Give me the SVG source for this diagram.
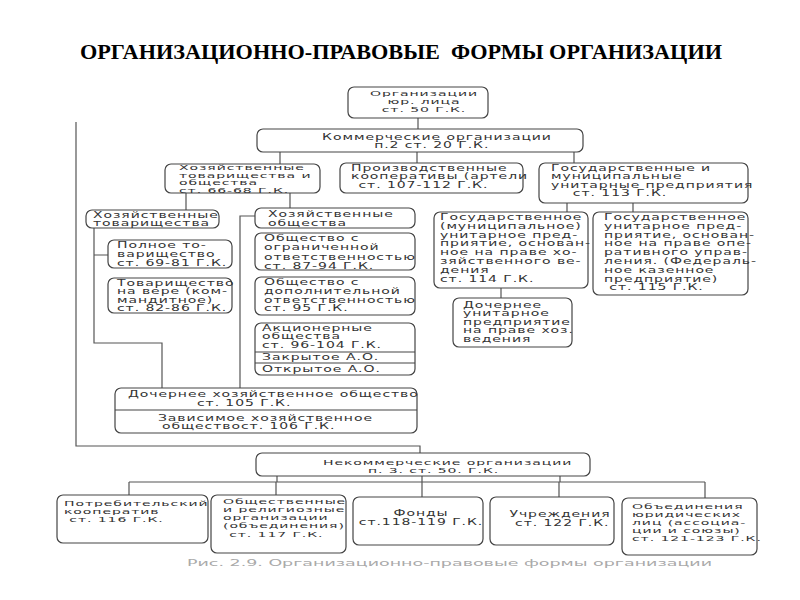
<svg xmlns="http://www.w3.org/2000/svg" width="800" height="600" viewBox="0 0 800 600">
<style>
.b{fill:#fff;stroke:#444;stroke-width:1.2}
.d{stroke:#444;stroke-width:1.2}
.c{fill:none;stroke:#555;stroke-width:1.2}
.t{font-family:"DejaVu Sans",Verdana,sans-serif;font-size:8px;fill:#333;letter-spacing:0.53px}
.s{font-size:7.3px;letter-spacing:0.48px}
.m{text-anchor:middle}
.title{font-family:"Liberation Serif","Times New Roman",serif;font-weight:bold;font-size:21px;fill:#000}
.cap{font-family:"DejaVu Sans",Verdana,sans-serif;font-size:8.5px;fill:#aaa}
</style>
<rect width="800" height="600" fill="#fff"/>
<text class="title" x="80" y="59" textLength="642" lengthAdjust="spacingAndGlyphs">ОРГАНИЗАЦИОННО-ПРАВОВЫЕ&#160; ФОРМЫ ОРГАНИЗАЦИИ</text>

<g id="connectors" class="c">
<path d="M418 118V129"/>
<path d="M280 152V164M417 152V163M574 152V163"/>
<path d="M186 193V210M290 193V208"/>
<path d="M94 228V343H162V388M94 255H108"/>
<path d="M255 216H240V388"/>
<path d="M567 203V212M633 203V212"/>
<path d="M501 288V298"/>
<path d="M76 122V446H420V453"/>
<path d="M277 476V482M422 476V482M560 476V482"/>
<path d="M129 482H705M129 482V495M276 482V495M422 482V497M559 482V497M705 482V498"/>
</g>

<g id="n-top"><rect class="b" x="348" y="87" width="140" height="31" rx="6"/>
<text class="t s m" transform="translate(424,96) scale(1.92,1)"><tspan x="0" y="0">Организации</tspan><tspan x="0" y="8">юр. лица</tspan><tspan x="0" y="16">ст. 50 Г.К.</tspan></text></g>

<g id="n-comm"><rect class="b" x="257" y="129" width="326" height="23" rx="6"/>
<text class="t m" transform="translate(437,140) scale(1.75,1)"><tspan x="0" y="0">Коммерческие организации</tspan><tspan x="-3" y="8.5">п.2 ст. 20 Г.К.</tspan></text></g>

<g id="n-hto"><rect class="b" x="165" y="164" width="155" height="29" rx="6"/>
<text class="t s" transform="translate(179,170) scale(1.92,1)"><tspan x="0" y="0">Хозяйственные</tspan><tspan x="0" y="7.6">товарищества и</tspan><tspan x="0" y="15.2">общества</tspan><tspan x="0" y="22.8">ст. 66-68 Г.К.</tspan></text></g>

<g id="n-pk"><rect class="b" x="340" y="163" width="183" height="30" rx="6"/>
<text class="t" transform="translate(351,171) scale(1.75,1)"><tspan x="0" y="0">Производственные</tspan><tspan x="0" y="8.5">кооперативы (артели</tspan><tspan x="1.2" y="17"> ст. 107-112 Г.К.</tspan></text></g>

<g id="n-gmup"><rect class="b" x="539" y="163" width="209" height="40" rx="6"/>
<text class="t" transform="translate(551,171) scale(1.75,1)"><tspan x="0" y="0">Государственные и</tspan><tspan x="0" y="8.5">муниципальные</tspan><tspan x="0" y="17">унитарные предприятия</tspan><tspan x="12.5" y="25.5">ст. 113 Г.К.</tspan></text></g>

<g id="n-ht"><rect class="b" x="86" y="210" width="133" height="18" rx="6"/>
<text class="t" transform="translate(93,218) scale(1.75,1)"><tspan x="0" y="0">Хозяйственные</tspan><tspan x="0" y="8.5">товарищества</tspan></text></g>

<g id="n-pt"><rect class="b" x="108" y="240" width="124" height="28" rx="6"/>
<text class="t" transform="translate(117,248) scale(1.75,1)"><tspan x="0" y="0">Полное то-</tspan><tspan x="0" y="9">варищество</tspan><tspan x="0" y="18">ст. 69-81 Г.К.</tspan></text></g>

<g id="n-tv"><rect class="b" x="108" y="278" width="124" height="35" rx="6"/>
<text class="t" transform="translate(117,286) scale(1.75,1)"><tspan x="0" y="0">Товарищество</tspan><tspan x="0" y="8.5">на вере (ком-</tspan><tspan x="0" y="17">мандитное)</tspan><tspan x="0" y="25.5">ст. 82-86 Г.К.</tspan></text></g>

<g id="n-ho"><rect class="b" x="255" y="208" width="160" height="20" rx="6"/>
<text class="t" transform="translate(268,217) scale(1.75,1)"><tspan x="0" y="0">Хозяйственные</tspan><tspan x="0" y="9">общества</tspan></text></g>

<g id="n-ooo"><rect class="b" x="255" y="233" width="160" height="37" rx="6"/>
<text class="t" transform="translate(264,241) scale(1.75,1)"><tspan x="0" y="0">Общество с</tspan><tspan x="0" y="9.3">ограниченной</tspan><tspan x="0" y="18.6">ответственностью</tspan><tspan x="0" y="27.9">ст. 87-94 Г.К.</tspan></text></g>

<g id="n-odo"><rect class="b" x="255" y="277" width="160" height="38" rx="6"/>
<text class="t" transform="translate(264,285) scale(1.75,1)"><tspan x="0" y="0">Общество с</tspan><tspan x="0" y="8.8">дополнительной</tspan><tspan x="0" y="17.6">ответственностью</tspan><tspan x="0" y="26.4">ст. 95 Г.К.</tspan></text></g>

<g id="n-ao"><rect class="b" x="255" y="323" width="160" height="52" rx="6"/>
<line class="d" x1="255" y1="352" x2="415" y2="352"/><line class="d" x1="255" y1="363" x2="415" y2="363"/>
<text class="t" transform="translate(262,331) scale(1.75,1)"><tspan x="0" y="0">Акционерные</tspan><tspan x="0" y="8.5">общества</tspan><tspan x="0" y="17">ст. 96-104 Г.К.</tspan><tspan x="0" y="29.5">Закрытое А.О.</tspan><tspan x="0" y="41">Открытое А.О.</tspan></text></g>

<g id="n-gup"><rect class="b" x="434" y="212" width="154" height="76" rx="6"/>
<text class="t" transform="translate(440,220) scale(1.75,1)"><tspan x="0" y="0">Государственное</tspan><tspan x="0" y="8.8">(муниципальное)</tspan><tspan x="0" y="17.6">унитарное пред-</tspan><tspan x="0" y="26.4">приятие, основан-</tspan><tspan x="0" y="35.2">ное на праве хо-</tspan><tspan x="0" y="44">зяйственного ве-</tspan><tspan x="0" y="52.8">дения</tspan><tspan x="0" y="61.6">ст. 114 Г.К.</tspan></text></g>

<g id="n-kaz"><rect class="b" x="593" y="212" width="155" height="83" rx="6"/>
<text class="t" transform="translate(604,220) scale(1.75,1)"><tspan x="0" y="0">Государственное</tspan><tspan x="0" y="8.8">унитарное пред-</tspan><tspan x="0" y="17.6">приятие, основан-</tspan><tspan x="0" y="26.4">ное на праве опе-</tspan><tspan x="0" y="35.2">ративного управ-</tspan><tspan x="0" y="44">ления. (Федераль-</tspan><tspan x="0" y="52.8">ное казенное</tspan><tspan x="0" y="61.6">предприятие)</tspan><tspan x="0" y="70.4"> ст. 115 Г.К.</tspan></text></g>

<g id="n-dup"><rect class="b" x="453" y="298" width="119" height="49" rx="6"/>
<text class="t" transform="translate(463,308) scale(1.75,1)"><tspan x="0" y="0">Дочернее</tspan><tspan x="0" y="8.5">унитарное</tspan><tspan x="0" y="17">предприятие</tspan><tspan x="0" y="25.5">на праве хоз.</tspan><tspan x="0" y="34">ведения</tspan></text></g>

<g id="n-dho"><rect class="b" x="115" y="388" width="302" height="45" rx="6"/>
<line class="d" x1="115" y1="410" x2="417" y2="410"/>
<text class="t" transform="translate(128,397) scale(1.75,1)"><tspan x="0" y="0">Дочернее хозяйственное общество</tspan><tspan x="39.4" y="9">ст. 105 Г.К.</tspan><tspan x="17.1" y="24">Зависимое хозяйственное</tspan><tspan x="19.4" y="32.5">обществост. 106 Г.К.</tspan></text></g>

<g id="n-nonc"><rect class="b" x="256" y="453" width="334" height="23" rx="6"/>
<text class="t s" transform="translate(323,465) scale(1.92,1)"><tspan x="0" y="0">Некоммерческие организации</tspan><tspan x="23.4" y="8">п. 3. ст. 50. Г.К.</tspan></text></g>

<g id="n-potr"><rect class="b" x="57" y="495" width="151" height="48" rx="6"/>
<text class="t s" transform="translate(64,506) scale(1.92,1)"><tspan x="0" y="0">Потребительский</tspan><tspan x="0" y="8">кооператив</tspan><tspan x="0" y="16"> ст. 116 Г.К.</tspan></text></g>

<g id="n-obsh"><rect class="b" x="211" y="495" width="135" height="58" rx="6"/>
<text class="t s" transform="translate(223,504) scale(1.92,1)"><tspan x="0" y="0">Общественные</tspan><tspan x="0" y="8">и религиозные</tspan><tspan x="0" y="16">организации</tspan><tspan x="0" y="24">(объединения)</tspan><tspan x="3.2" y="33">ст. 117 Г.К.</tspan></text></g>

<g id="n-fond"><rect class="b" x="353" y="497" width="130" height="48" rx="6"/>
<text class="t m" transform="translate(421,516) scale(1.75,1)"><tspan x="0" y="0">Фонды</tspan><tspan x="0" y="9">ст.118-119 Г.К.</tspan></text></g>

<g id="n-uch"><rect class="b" x="490" y="497" width="124" height="48" rx="6"/>
<text class="t m" transform="translate(560,517) scale(1.75,1)"><tspan x="0" y="0">Учреждения</tspan><tspan x="1.3" y="9">ст. 122 Г.К.</tspan></text></g>

<g id="n-obj"><rect class="b" x="622" y="498" width="135" height="57" rx="6"/>
<text class="t s" transform="translate(632,509) scale(1.92,1)"><tspan x="0" y="0">Объединения</tspan><tspan x="0" y="8">юридических</tspan><tspan x="0" y="16">лиц (ассоциа-</tspan><tspan x="0" y="24">ции и союзы)</tspan><tspan x="0" y="32">ст. 121-123 Г.К.</tspan></text></g>

<text class="cap" x="187" y="566" textLength="525" lengthAdjust="spacingAndGlyphs">Рис. 2.9. Организационно-правовые формы организации</text>
</svg>
